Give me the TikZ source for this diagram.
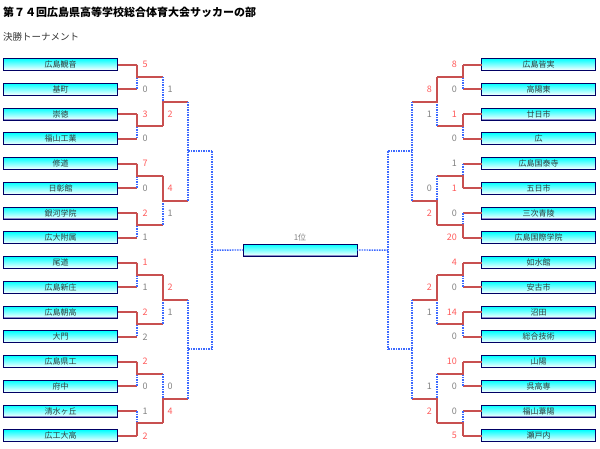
\documentclass[tikz,border=0pt]{standalone}
\usepackage{fontspec}
\setmainfont{Noto Sans CJK JP}
\usepackage{tikz}
\usetikzlibrary{calc}
\definecolor{winred}{RGB}{200, 80, 80}
\definecolor{waitblue}{RGB}{60, 105, 255}
\definecolor{boxnavy}{RGB}{0, 0, 100}
\definecolor{boxlav}{RGB}{140, 140, 200}
\definecolor{scorered}{RGB}{255, 90, 90}
\definecolor{scoregray}{RGB}{130, 130, 130}
\definecolor{teamtext}{RGB}{50, 60, 60}

\begin{document}
\begin{tikzpicture}[x=1pt, y=-1pt,
    teambox/.style={draw=boxnavy, line width=1pt, top color=cyan, middle color=cyan!85!white,
        bottom color=white,
        minimum width=114pt, minimum height=12pt, inner sep=0pt, outer sep=0pt,
        font=\fontsize{8}{8}\selectfont, text=teamtext,
        path picture={\draw[boxlav, line width=1.5pt] (path picture bounding box.south west)
            -- (path picture bounding box.south east);}},
    won/.style={winred, line width=2pt},
    undecided/.style={waitblue, line width=1.4pt, dash pattern=on 1.5pt off 1pt},
    score/.style={inner sep=0pt, font=\fontsize{9}{9}\selectfont}]
    \useasboundingbox (0,0) rectangle (600,448);

    \node[anchor=west, inner sep=0pt, font=\fontsize{11}{11}\selectfont\bfseries] (title) at (3,12)
        {第７４回広島県高等学校総合体育大会サッカーの部};
    \node[anchor=west, inner sep=0pt, font=\fontsize{9.5}{9.5}\selectfont, text=black!80] (subtitle) at (3,36.5)
        {決勝トーナメント};

    % bracket columns
    \coordinate (lx1) at (137,0);
    \coordinate (lx2) at (163,0);
    \coordinate (lx3) at (188,0);
    \coordinate (lx4) at (212,0);
    \coordinate (rx1) at (463,0);
    \coordinate (rx2) at (437,0);
    \coordinate (rx3) at (412,0);
    \coordinate (rx4) at (388,0);

    % teams
    \foreach \i/\team in {1/広島観音, 2/基町, 3/崇徳, 4/福山工業, 5/修道, 6/日彰館, 7/銀河学院, 8/広大附属,
        9/尾道, 10/広島新庄, 11/広島朝高, 12/大門, 13/広島県工, 14/府中, 15/清水ヶ丘, 16/広工大高}
        \node[teambox] (L\i) at (60.5,{64.5+(\i-1)*24.75}) {\team};
    \foreach \i/\team in {1/広島皆実, 2/高陽東, 3/廿日市, 4/広, 5/広島国泰寺, 6/五日市, 7/三次青陵, 8/広島国際学院,
        9/如水館, 10/安古市, 11/沼田, 12/総合技術, 13/山陽, 14/呉高専, 15/福山葦陽, 16/瀬戸内}
        \node[teambox] (R\i) at (538.5,{64.5+(\i-1)*24.75}) {\team};
    \node[teambox] (final) at (300,250) {};
    \node[score, font=\fontsize{8}{8}\selectfont, text=scoregray] (finallabel) at (300,237.5) {1位};

    % stubs
    \foreach \i in {1,...,16} {
        \draw[won] (L\i.east) -- (L\i.east -| lx1);
        \draw[won] (R\i.west) -- (R\i.west -| rx1);
    }

    % first round
    \foreach \m in {1,...,8} {
        \pgfmathtruncatemacro\t{2*\m-1}
        \pgfmathtruncatemacro\b{2*\m}
        \coordinate (LA\m) at ($(L\t.east -| lx1)!.5!(L\b.east -| lx1)$);
        \coordinate (RA\m) at ($(R\t.west -| rx1)!.5!(R\b.west -| rx1)$);
        \draw[undecided] (L\t.east -| lx1) -- (L\b.east -| lx1);
        \draw[undecided] (R\t.west -| rx1) -- (R\b.west -| rx1);
    }
    \foreach \m/\w in {1/1, 2/3, 3/5, 4/7, 5/9, 6/11, 7/13, 8/16}
        \draw[won] (L\w.east -| lx1) -- (LA\m) -- (LA\m -| lx2);
    \foreach \m/\w in {1/1, 2/3, 3/6, 4/8, 5/9, 6/11, 7/13, 8/16}
        \draw[won] (R\w.west -| rx1) -- (RA\m) -- (RA\m -| rx2);

    % second round
    \foreach \k in {1,...,4} {
        \pgfmathtruncatemacro\t{2*\k-1}
        \pgfmathtruncatemacro\b{2*\k}
        \coordinate (LB\k) at ($(LA\t -| lx2)!.5!(LA\b -| lx2)$);
        \coordinate (RB\k) at ($(RA\t -| rx2)!.5!(RA\b -| rx2)$);
        \draw[undecided] (LA\t -| lx2) -- (LA\b -| lx2);
        \draw[undecided] (RA\t -| rx2) -- (RA\b -| rx2);
    }
    \foreach \k/\w in {1/2, 2/3, 3/5, 4/8}
        \draw[won] (LA\w -| lx2) -- (LB\k) -- (LB\k -| lx3);
    \foreach \k/\w in {1/1, 2/4, 3/5, 4/8}
        \draw[won] (RA\w -| rx2) -- (RB\k) -- (RB\k -| rx3);

    % quarter and semi finals (not played yet)
    \foreach \j in {1,2} {
        \pgfmathtruncatemacro\t{2*\j-1}
        \pgfmathtruncatemacro\b{2*\j}
        \coordinate (LC\j) at ($(LB\t -| lx3)!.5!(LB\b -| lx3)$);
        \coordinate (RC\j) at ($(RB\t -| rx3)!.5!(RB\b -| rx3)$);
        \draw[undecided] (LB\t -| lx3) -- (LB\b -| lx3);
        \draw[undecided] (RB\t -| rx3) -- (RB\b -| rx3);
        \draw[undecided] (LC\j) -- (LC\j -| lx4);
        \draw[undecided] (RC\j) -- (RC\j -| rx4);
    }
    \draw[undecided] (LC1 -| lx4) -- (LC2 -| lx4);
    \draw[undecided] (RC1 -| rx4) -- (RC2 -| rx4);
    \coordinate (LD) at ($(LC1 -| lx4)!.5!(LC2 -| lx4)$);
    \coordinate (RD) at ($(RC1 -| rx4)!.5!(RC2 -| rx4)$);
    \draw[undecided] (LD) -- (final.west);
    \draw[undecided] (RD) -- (final.east);

    % scores
    \foreach \i/\s/\c in {1/5/scorered, 2/0/scoregray, 3/3/scorered, 4/0/scoregray,
        5/7/scorered, 6/0/scoregray, 7/2/scorered, 8/1/scoregray,
        9/1/scorered, 10/1/scoregray, 11/2/scorered, 12/2/scoregray,
        13/2/scorered, 14/0/scoregray, 15/1/scoregray, 16/2/scorered}
        \node[score, text=\c] (LS\i) at ($(L\i.east -| lx1)+(8,0)$) {\s};
    \foreach \i/\s/\c in {1/8/scorered, 2/0/scoregray, 3/1/scorered, 4/0/scoregray,
        5/1/scoregray, 6/1/scorered, 7/0/scoregray, 8/20/scorered,
        9/4/scorered, 10/0/scoregray, 11/14/scorered, 12/0/scoregray,
        13/10/scorered, 14/0/scoregray, 15/0/scoregray, 16/5/scorered}
        \node[score, text=\c, anchor=east] (RS\i) at ($(R\i.west -| rx1)+(-6,0)$) {\s};
    \foreach \i/\s/\c in {2/1/scoregray, 3/2/scorered, 6/4/scorered, 7/1/scoregray,
        10/2/scorered, 11/1/scoregray, 14/0/scoregray, 15/4/scorered}
        \node[score, text=\c] (LT\i) at ($(L\i.east -| lx2)+(7,0)$) {\s};
    \foreach \i/\s/\c in {2/8/scorered, 3/1/scoregray, 6/0/scoregray, 7/2/scorered,
        10/2/scorered, 11/1/scoregray, 14/1/scoregray, 15/2/scorered}
        \node[score, text=\c, anchor=east] (RT\i) at ($(R\i.west -| rx2)+(-5,0)$) {\s};
\end{tikzpicture}
\end{document}
